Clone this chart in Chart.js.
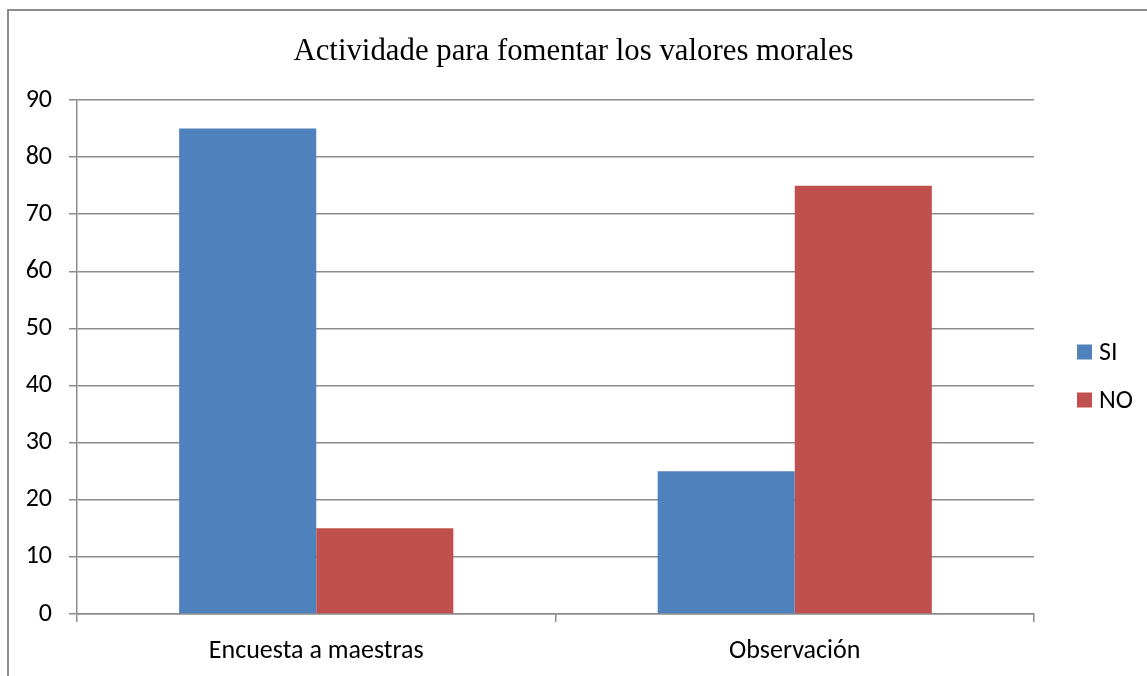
<!DOCTYPE html>
<html>
<head>
<meta charset="utf-8">
<script src="https://cdn.jsdelivr.net/npm/chart.js@4.4.0/dist/chart.umd.min.js"></script>
<style>
  html, body { margin: 0; padding: 0; background: #fff; }
  #wrap { position: relative; width: 1147px; height: 676px; overflow: hidden; }
  #frame { position: absolute; left: 7px; top: 9px; width: 1200px; height: 700px;
           border-left: 2px solid #8c8c8c; border-top: 2px solid #8c8c8c; box-sizing: border-box; }
  canvas { position: absolute; left: 0; top: 0; }
</style>
</head>
<body>
<div id="wrap">
  <div id="frame"></div>
  <canvas id="c" width="1147" height="676"></canvas>
</div>
<script>
const titleText = "Actividade para fomentar los valores morales";
const categories = ["Encuesta a maestras", "Observación"];
const seriesNames = ["SI", "NO"];
const siValues = [85, 25];
const noValues = [15, 75];
const yTicks = [0, 10, 20, 30, 40, 50, 60, 70, 80, 90];

const colors = ["#4F81BD", "#C0504D"];
const sansFont = "Carlito, Lato, 'Open Sans', sans-serif";
const serifFont = "'Liberation Serif', 'Times New Roman', serif";
const gridColor = "#8c8c8c";
const labelSize = 26;

const textPlugin = {
  id: "titleAndLegend",
  afterDraw(chart) {
    const ctx = chart.ctx;
    const area = chart.chartArea;
    ctx.save();
    // title, centred on the whole frame
    ctx.font = "30.8px " + serifFont;
    ctx.fillStyle = "#000";
    ctx.textAlign = "center";
    ctx.textBaseline = "alphabetic";
    ctx.fillText(titleText, chart.width / 2, 60);
    // legend
    ctx.font = labelSize + "px " + sansFont;
    ctx.textBaseline = "middle";
    ctx.textAlign = "left";
    chart.data.datasets.forEach((ds, i) => {
      const cy = 352 + i * 48;
      const x = area.right + 43;
      ctx.fillStyle = ds.backgroundColor;
      ctx.fillRect(x, cy - 7.5, 15, 15);
      ctx.fillStyle = "#000";
      ctx.fillText(ds.label, x + 22, cy + 1);
    });
    ctx.restore();
  }
};

new Chart(document.getElementById("c"), {
  type: "bar",
  data: {
    labels: categories,
    datasets: [
      { label: seriesNames[0], data: siValues, backgroundColor: colors[0],
        categoryPercentage: 0.573, barPercentage: 1.0 },
      { label: seriesNames[1], data: noValues, backgroundColor: colors[1],
        categoryPercentage: 0.573, barPercentage: 1.0 }
    ]
  },
  options: {
    responsive: false,
    animation: false,
    devicePixelRatio: 1,
    layout: { padding: { left: 0, right: 113, top: 100, bottom: 0 } },
    plugins: {
      legend: { display: false },
      tooltip: { enabled: false },
      title: { display: false }
    },
    scales: {
      x: {
        afterFit(scale) { scale.height = 62; },
        grid: { display: true, drawOnChartArea: false, drawTicks: true, tickLength: 8,
                color: gridColor, lineWidth: 1.5, offset: true },
        border: { display: true, color: gridColor, width: 1.5 },
        ticks: { color: "#000", font: { family: sansFont, size: labelSize }, padding: 14 }
      },
      y: {
        min: 0, max: 90,
        afterFit(scale) { scale.width = 77; },
        afterBuildTicks(scale) { scale.ticks = yTicks.map(v => ({ value: v })); },
        grid: { color: gridColor, lineWidth: 1.5, drawTicks: true, tickLength: 8 },
        border: { display: true, color: gridColor, width: 1.5 },
        ticks: { color: "#000", font: { family: sansFont, size: labelSize }, padding: 17 }
      }
    }
  },
  plugins: [textPlugin]
});
</script>
</body>
</html>
